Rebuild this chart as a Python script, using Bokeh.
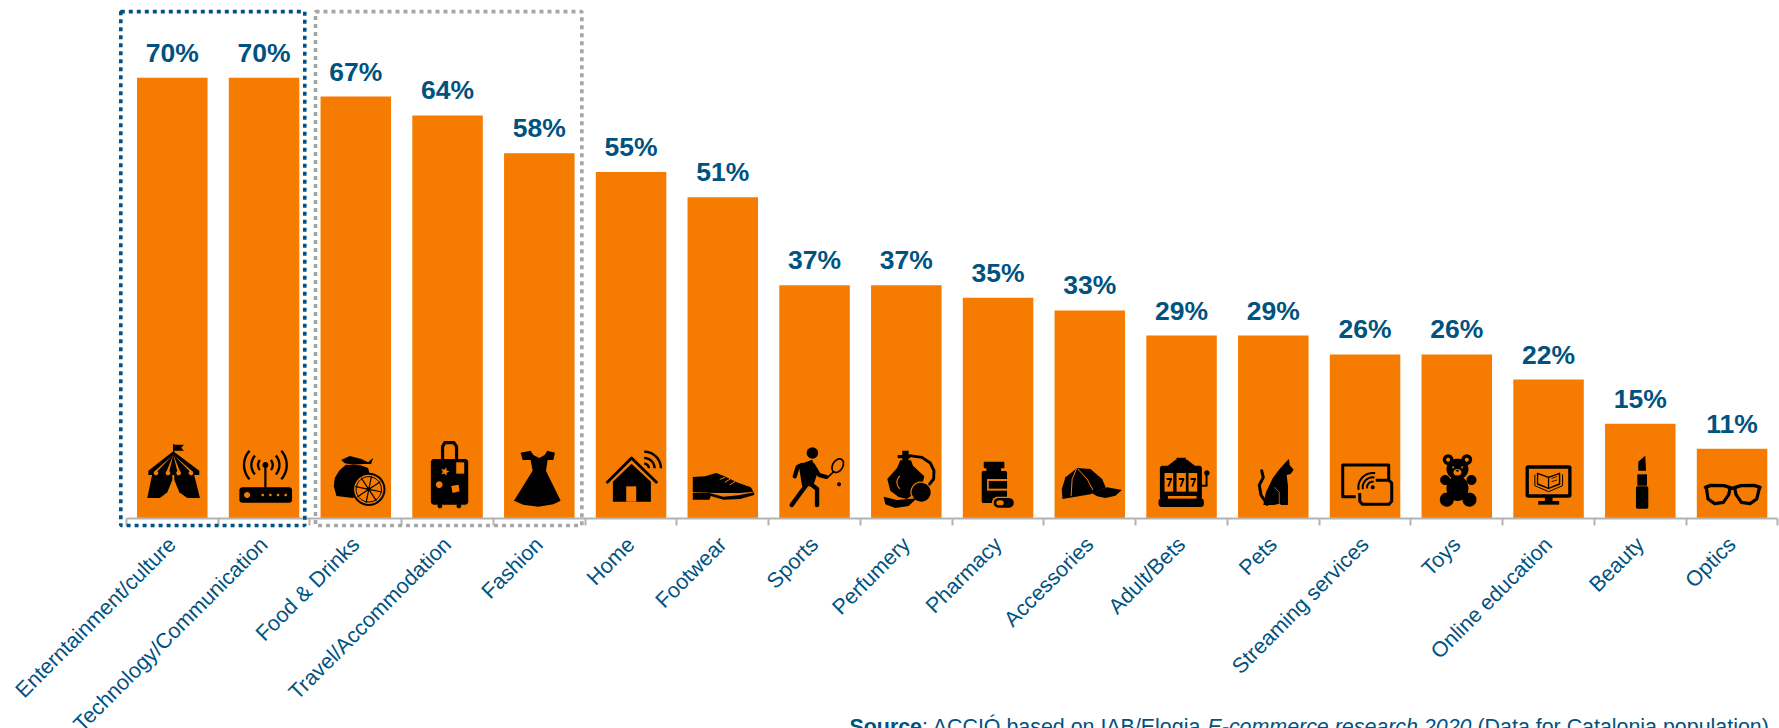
import math
from bokeh.embed import file_html
from bokeh.resources import INLINE
from bokeh.core.properties import value
from bokeh.models import (BoxAnnotation, ColumnDataSource, FixedTicker, Label,
                          LinearAxis, Range1d)
from bokeh.plotting import figure

categories = ["Enterntainment/culture", "Technology/Communication", "Food & Drinks",
              "Travel/Accommodation", "Fashion", "Home", "Footwear", "Sports", "Perfumery",
              "Pharmacy", "Accessories", "Adult/Bets", "Pets", "Streaming services", "Toys",
              "Online education", "Beauty", "Optics"]
shares = [70, 70, 67, 64, 58, 55, 51, 37, 37, 35, 33, 29, 29, 26, 26, 22, 15, 11]

WIDTH, HEIGHT = 1779, 728
ORANGE = "#F57C00"
BLUE = "#00527F"
GREY = "#A6A6A6"
INK = "#000000"
FONT = "Liberation Sans"

SLOT_PX = 91.75          # horizontal distance between two bars
PCT_PX = 6.29            # pixels per percentage point
FIRST_CENTRE_PX = 171.8
BASE_PX = 517.5          # distance of the zero line from the top of the page

xs = list(range(len(shares)))
source = ColumnDataSource(dict(x=xs, share=shares, label=[f"{v}%" for v in shares]))

p = figure(width=WIDTH, height=HEIGHT, output_backend="svg", toolbar_location=None,
           x_range=Range1d(-FIRST_CENTRE_PX / SLOT_PX, (WIDTH - FIRST_CENTRE_PX) / SLOT_PX),
           y_range=Range1d((BASE_PX - HEIGHT) / PCT_PX, BASE_PX / PCT_PX),
           x_axis_location=None, y_axis_location=None,
           min_border=0, min_border_left=0, min_border_right=0, min_border_top=0,
           min_border_bottom=0, outline_line_color=None, background_fill_color="white",
           border_fill_color="white")
p.grid.visible = False

p.vbar(x="x", top="share", bottom=0, width=70.5 / SLOT_PX, source=source,
       fill_color=ORANGE, line_color=None)
p.text(x="x", y="share", text="label", source=source, y_offset=-25, text_align="center",
       text_baseline="middle", text_color=BLUE, text_font=value(FONT),
       text_font_style="bold", text_font_size="26.5px")


class Sketch:
    """Pictogram helper: outlines are given on a 3x grid around a bar's foot."""

    def __init__(self, slot, cx, foot):
        self.slot, self.cx, self.foot = slot, cx, foot

    def _x(self, x):
        return self.slot + (x - self.cx) / 3 / SLOT_PX

    def _y(self, y):
        return (self.foot - y) / 3 / PCT_PX

    def fill(self, pts, color=INK):
        p.patch([self._x(a) for a, _ in pts], [self._y(b) for _, b in pts],
                fill_color=color, line_color=None)

    def stroke(self, pts, w=2.0, color=INK, cap="round"):
        p.line([self._x(a) for a, _ in pts], [self._y(b) for _, b in pts], line_color=color,
               line_width=w, line_cap=cap, line_join="round")

    def ellipse(self, cx, cy, rx, ry=None, color=INK, rot=0.0):
        ry = rx if ry is None else ry
        c, s = math.cos(rot), math.sin(rot)
        pts = []
        for k in range(36):
            t = 2 * math.pi * k / 36
            a, b = rx * math.cos(t), ry * math.sin(t)
            pts.append((cx + a * c - b * s, cy + a * s + b * c))
        self.fill(pts, color)

    def ring(self, cx, cy, rx, ry, w, color=INK, rot=0.0):
        c, s = math.cos(rot), math.sin(rot)
        pts = []
        for k in range(37):
            t = 2 * math.pi * k / 36
            a, b = rx * math.cos(t), ry * math.sin(t)
            pts.append((cx + a * c - b * s, cy + a * s + b * c))
        self.stroke(pts, w, color)

    def arc(self, cx, cy, r, a0, a1, w=2.0, color=INK):
        pts = []
        for k in range(25):
            t = math.radians(a0 + (a1 - a0) * k / 24)
            pts.append((cx + r * math.cos(t), cy - r * math.sin(t)))
        self.stroke(pts, w, color, cap="butt")

    def rrect(self, x0, y0, x1, y1, r=0.0, color=INK):
        if r <= 0:
            self.fill([(x0, y0), (x1, y0), (x1, y1), (x0, y1)], color)
            return
        pts = []
        for ccx, ccy, start in ((x1 - r, y0 + r, -90), (x1 - r, y1 - r, 0),
                                (x0 + r, y1 - r, 90), (x0 + r, y0 + r, 180)):
            for k in range(7):
                t = math.radians(start + 15 * k)
                pts.append((ccx + r * math.cos(t), ccy + r * math.sin(t)))
        self.fill(pts, color)


def draw_circus():
    s = Sketch(0, 187, 292)
    s.fill([(190, 72), (222, 72), (214, 81), (222, 90), (190, 90)])
    s.stroke([(191, 72), (191, 98)], 1.2)
    s.fill([(190, 92), (268, 150), (268, 163), (115, 163), (115, 150)])
    s.fill([(127, 160), (112, 232), (150, 232), (172, 215), (187, 178), (187, 160)])
    s.fill([(252, 160), (270, 232), (232, 232), (208, 215), (193, 178), (193, 160)])
    for tip in (138, 174, 206, 243):
        s.ellipse(tip, 157, 7, 7, ORANGE)
    for base in (138, 174, 206, 243):
        s.fill([(190, 102), (base - 4, 152), (base + 4, 152)], ORANGE)


def draw_router():
    s = Sketch(1, 462, 292)
    s.rrect(388, 200, 546, 246, 8)
    s.ellipse(411, 223, 9, 9, ORANGE)
    for dot in (458, 481, 504, 527):
        s.ellipse(dot, 223, 4, 4, ORANGE)
    s.stroke([(466, 135), (466, 200)], 2.2)
    s.ellipse(466, 133, 9)
    for r in (22, 42, 64):
        s.arc(466, 133, r, -42, 42, 2.4)
        s.arc(466, 133, r, 138, 222, 2.4)


def draw_fruit():
    s = Sketch(2, 738, 292)
    s.fill([(708, 132), (688, 150), (675, 172), (672, 197), (680, 226), (730, 232),
            (782, 172), (775, 142), (752, 134)])
    s.fill([(694, 118), (720, 106), (755, 115), (775, 125), (790, 111), (784, 130),
            (760, 130), (730, 132), (705, 128)])
    s.ellipse(777, 206, 50)
    s.ellipse(777, 206, 44, 44, ORANGE)
    s.ring(777, 206, 38, 38, 1.0)
    for k in range(8):
        t = math.pi * k / 4 + 0.2
        s.stroke([(777, 206), (777 + 40 * math.cos(t), 206 + 40 * math.sin(t))], 1.2)
    s.ellipse(777, 206, 6)


def draw_suitcase():
    s = Sketch(3, 1013, 292)
    s.rrect(963, 115, 1075, 252, 9)
    s.ellipse(990, 256, 7)
    s.ellipse(1047, 256, 7)
    s.stroke([(998, 115), (998, 78), (1005, 66), (1032, 66), (1040, 78), (1040, 115)], 3.2)
    s.rrect(1039, 125, 1063, 159, 0, ORANGE)
    star = []
    for k in range(10):
        r = 14 if k % 2 == 0 else 6
        t = math.pi * k / 5 - math.pi / 2 + 0.3
        star.append((1005 + r * math.cos(t), 153 + r * math.sin(t)))
    s.fill(star, ORANGE)
    s.ellipse(988, 192, 10, 10, ORANGE)
    s.fill([(1024, 196), (1046, 192), (1049, 212), (1028, 217)], ORANGE)


def draw_dress():
    s = Sketch(4, 1288, 292)
    s.fill([(1232, 96), (1262, 90), (1270, 103), (1288, 112), (1304, 103), (1312, 90),
            (1335, 96), (1330, 118), (1313, 118), (1308, 150), (1352, 240), (1330, 251),
            (1285, 258), (1240, 252), (1212, 240), (1268, 150), (1262, 118), (1238, 118)])


def draw_home():
    s = Sketch(5, 122.5, 247)
    s.stroke([(49, 142), (124, 67), (201, 142)], 2.8, cap="butt")
    s.fill([(124, 84), (182, 138), (182, 198), (68, 198), (68, 138)])
    s.rrect(108, 152, 138, 198, 0, ORANGE)
    for r in (14, 31, 50):
        s.arc(162, 98, r, 0, 90, 2.4)


def draw_shoe():
    s = Sketch(6, 398, 247)
    s.fill([(308, 124), (345, 122), (378, 112), (400, 120), (440, 140), (482, 155),
            (490, 168), (450, 172), (380, 172), (308, 170)])
    s.fill([(308, 172), (358, 172), (400, 183), (445, 179), (492, 170), (492, 178), (450, 190),
            (400, 192), (362, 181), (358, 192), (308, 192)])
    for a, b, c, d in ((390, 131, 404, 125), (405, 139, 419, 131), (420, 147, 434, 138)):
        s.stroke([(a, b), (c, d)], 1.0, ORANGE)


def draw_player():
    s = Sketch(7, 672.5, 247)
    s.ellipse(666, 52, 17)
    s.fill([(625, 87), (665, 72), (682, 110), (668, 152), (635, 152)])
    s.stroke([(635, 88), (622, 94), (613, 122)], 4.2)
    s.stroke([(668, 88), (686, 118), (708, 124)], 4.0)
    s.stroke([(648, 148), (630, 172), (604, 208)], 4.4)
    s.stroke([(655, 140), (680, 160), (680, 208)], 4.4)
    s.ring(742, 90, 15, 22, 1.7, rot=0.55)
    s.stroke([(730, 108), (711, 126)], 1.7)
    s.ellipse(746, 146, 6)


def draw_perfume():
    s = Sketch(8, 948, 247)
    s.fill([(930, 74), (962, 74), (968, 90), (1002, 122), (995, 150), (975, 172), (950, 190),
            (925, 184), (900, 165), (891, 130), (920, 97)])
    s.rrect(922, 58, 960, 68, 2)
    s.rrect(936, 45, 955, 76, 2)
    s.stroke([(958, 60), (995, 65), (1020, 82), (1031, 105), (1030, 130), (1018, 145)], 2.9)
    s.ellipse(993, 170, 28)
    s.arc(993, 170, 31, 60, 200, 1.2, ORANGE)
    s.fill([(880, 183), (920, 193), (980, 188), (955, 211), (915, 217), (885, 206)])
    s.arc(945, 140, 25, 130, 230, 1.2, ORANGE)


def draw_medicine():
    s = Sketch(9, 1223, 247)
    s.rrect(1180, 78, 1242, 98, 3)
    s.rrect(1188, 96, 1232, 108)
    s.rrect(1174, 106, 1250, 202, 5)
    s.rrect(1190, 130, 1250, 165, 0, ORANGE)
    s.rrect(1195, 136, 1250, 159)
    s.rrect(1205, 183, 1274, 219, 17, ORANGE)
    s.rrect(1210, 187, 1270, 216, 14)
    s.rrect(1218, 194, 1240, 209, 7, ORANGE)


def draw_cap():
    s = Sketch(10, 148, 247)
    s.fill([(66, 190), (64, 160), (75, 125), (110, 97), (150, 100), (185, 130), (196, 156),
            (150, 176)])
    s.fill([(155, 173), (200, 155), (244, 163), (225, 180), (195, 187), (170, 182)])
    s.stroke([(108, 100), (95, 130), (92, 180)], 1.0, ORANGE)
    s.stroke([(112, 100), (140, 130), (157, 162)], 1.0, ORANGE)


def draw_slot_machine():
    s = Sketch(11, 423, 247)
    s.fill([(380, 92), (405, 72), (440, 72), (465, 92)])
    s.rrect(408, 66, 436, 76, 2)
    s.rrect(358, 90, 484, 192, 8)
    s.rrect(354, 188, 490, 214, 9)
    for x0, x1 in ((372, 398), (408, 436), (444, 470)):
        s.rrect(x0, 112, x1, 168, 0, ORANGE)
        mid = (x0 + x1) / 2
        s.stroke([(mid - 7, 130), (mid + 7, 130), (mid - 2, 153)], 1.8, cap="butt")
    s.rrect(382, 181, 468, 189, 0, ORANGE)
    s.stroke([(484, 150), (498, 150), (498, 112)], 2.0)
    s.ellipse(499, 112, 8)


def draw_cat():
    s = Sketch(12, 698, 247)
    s.fill([(668, 208), (676, 170), (696, 128), (715, 102), (735, 80), (745, 70), (747, 88),
            (759, 102), (750, 115), (738, 118), (742, 150), (742, 208), (722, 208), (716, 204),
            (700, 208)])
    s.stroke([(680, 206), (661, 178), (656, 148), (668, 125), (663, 105)], 3.0)
    s.stroke([(702, 155), (716, 170), (716, 205)], 0.7, ORANGE)


def draw_casting():
    s = Sketch(13, 973, 247)
    s.stroke([(945, 183), (906, 183), (906, 88), (1044, 88), (1044, 130)], 3.0, cap="butt")
    s.stroke([(957, 172), (957, 197), (965, 206), (1045, 206), (1053, 197), (1053, 142),
              (1045, 134), (1005, 134)], 3.0, cap="butt")
    for r in (17, 30, 43):
        s.arc(996, 155, r, 80, 190, 2.0)
    s.ellipse(996, 155, 6)


def draw_bear():
    s = Sketch(14, 1248, 247)
    s.ellipse(1222, 72, 16)
    s.ellipse(1278, 72, 16)
    s.ellipse(1222, 72, 6, 6, ORANGE)
    s.ellipse(1278, 72, 6, 6, ORANGE)
    s.ellipse(1250, 100, 33, 31)
    s.ellipse(1250, 110, 12, 10, ORANGE)
    s.ellipse(1250, 105, 4, 3)
    s.ellipse(1237, 95, 3, 3, ORANGE)
    s.ellipse(1264, 95, 3, 3, ORANGE)
    s.ellipse(1250, 158, 33, 38)
    s.ellipse(1213, 133, 15)
    s.ellipse(1292, 133, 15)
    s.ellipse(1218, 192, 21)
    s.ellipse(1286, 192, 21)


def draw_screen():
    s = Sketch(15, 203, 247)
    s.rrect(134, 89, 272, 186, 7)
    s.rrect(144, 99, 262, 176, 2, ORANGE)
    s.rrect(192, 184, 215, 200)
    s.rrect(172, 196, 235, 207)
    s.stroke([(162, 118), (162, 150), (203, 168), (245, 150), (245, 118)], 1.0)
    s.stroke([(170, 113), (203, 125), (236, 113), (236, 145), (203, 158), (170, 145), (170, 113)], 1.4)
    s.stroke([(203, 125), (203, 158)], 1.2)
    for a, b in ((213, 128), (213, 138)):
        s.stroke([(a, b), (a + 15, b - 5)], 0.8)


def draw_lipstick():
    s = Sketch(16, 478, 247)
    s.fill([(472, 78), (493, 60), (495, 105), (472, 105)])
    s.rrect(469, 116, 498, 150)
    s.rrect(465, 152, 502, 219, 5)


def draw_glasses():
    s = Sketch(17, 754, 247)
    s.stroke([(674, 155), (690, 149), (730, 150), (755, 158), (780, 150), (820, 149), (838, 155)], 3.4)
    s.stroke([(677, 157), (682, 190), (702, 204), (728, 200), (744, 177), (748, 158)], 3.2)
    s.stroke([(762, 158), (766, 177), (782, 200), (808, 204), (828, 190), (836, 157)], 3.2)


for draw in (draw_circus, draw_router, draw_fruit, draw_suitcase, draw_dress, draw_home, draw_shoe,
             draw_player, draw_perfume, draw_medicine, draw_cap, draw_slot_machine, draw_cat,
             draw_casting, draw_bear, draw_screen, draw_lipstick, draw_glasses):
    draw()

# Axis rule at zero with ticks between the categories, plus the slanted names.
boundaries = [i - 0.5 for i in range(len(categories) + 1)]
rule = LinearAxis(ticker=FixedTicker(ticks=[], minor_ticks=boundaries),
                  bounds=(-0.5, len(categories) - 0.5), fixed_location=0,
                  axis_line_color="#B3B3B3", axis_line_width=2, major_tick_line_color=None,
                  minor_tick_line_color="#B3B3B3", minor_tick_line_width=2,
                  minor_tick_in=0, minor_tick_out=7)
p.add_layout(rule, "below")

names = LinearAxis(ticker=FixedTicker(ticks=xs), fixed_location=0, axis_line_color=None,
                   major_tick_line_color=None, minor_tick_line_color=None,
                   major_tick_in=0, major_tick_out=0,
                   major_label_overrides={i: name for i, name in enumerate(categories)},
                   major_label_orientation=math.pi / 4, major_label_standoff=23,
                   major_label_text_color=BLUE, major_label_text_font=FONT,
                   major_label_text_font_size="21.5px")
p.add_layout(names, "below")

# Dotted frames round the two leading groups of categories.
for left, right, color in ((-0.561, 1.444, BLUE), (1.561, 4.464, GREY)):
    p.add_layout(BoxAnnotation(left=left, right=right, top=80.5, bottom=-1.19, fill_color=None,
                               fill_alpha=0, line_color=color, line_alpha=1, line_width=3.6,
                               line_dash="4 4", level="overlay"))

# Source line, assembled from runs in different font styles; the last number in
# each run is its advance width in ems, including any space that follows or precedes it.
SOURCE_PX = 21.4
runs = [("Source", "bold", 0.0, 3.39), (": ACCIÓ based on IAB/Elogia", "normal", 0.0, 13.34),
        ("E-commerce research 2020", "italic", 0.0, 12.337),
        ("(Data for Catalonia population)", "normal", 0.278, 13.895)]
cursor = 849.0
for text, style, lead, ems in runs:
    start = cursor + lead * SOURCE_PX
    p.add_layout(Label(x=(start - FIRST_CENTRE_PX) / SLOT_PX, y=-197.1 / PCT_PX, text=text,
                       text_font=FONT, text_font_style=style, text_font_size=f"{SOURCE_PX}px",
                       text_color=BLUE, text_baseline="top", text_align="left"))
    cursor += ems * SOURCE_PX

open("out.html", "w").write(file_html(p, INLINE))
